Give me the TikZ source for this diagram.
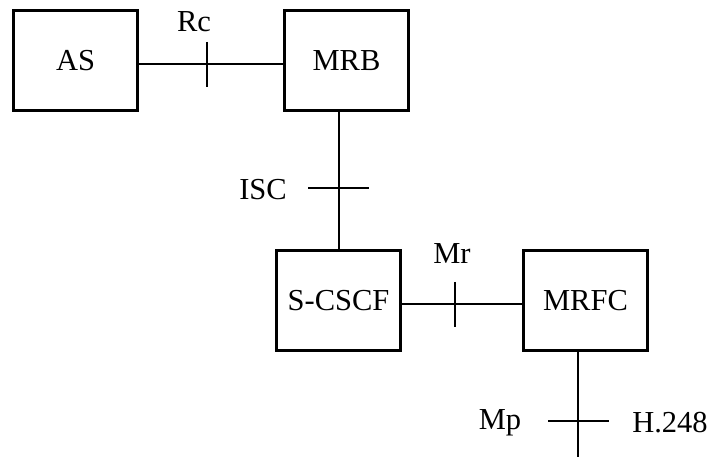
\documentclass[tikz,border=0pt]{standalone}
\usepackage{fontspec}
\setmainfont{Liberation Serif}
\usetikzlibrary{positioning}

\begin{document}
\begin{tikzpicture}[x = 1pt, y = -1pt, box/.style = {draw, line width = 2.2pt, minimum width = 124pt, minimum height = 100pt, font = \fontsize{30.5}{32}\selectfont}, link/.style = {line width = 1.2pt}, lbl/.style = {font = \fontsize{30.5}{32}\selectfont, inner sep = 0pt}]
\useasboundingbox (0, 0) rectangle (710, 457);

	\node [box] (AS) at (75.5, 60.5) {AS};
	\node [box] (MRB) at (346.5, 60.5) {MRB};
	\node [box] (SCSCF) at (338.5, 300.5) {S-CSCF};
	\node [box] (MRFC) at (585.5, 300.5) {MRFC};
	
	\coordinate (rc) at (207, 64);
	\coordinate (isc) at (339, 188);
	\coordinate (mr) at (455, 304);
	\coordinate (mp) at (578, 421);
	\coordinate (H) at (578, 457);
	
	% Rc
	\draw [link] (AS.east |- rc) -- (MRB.west |- rc);
	\draw [link] ([yshift = 22pt] rc) -- ([yshift = -23pt] rc);
	\node [lbl] (Rc) at (194, 22) {Rc};
	
	% ISC
	\draw [link] (MRB.south -| isc) -- (SCSCF.north -| isc);
	\draw [link] ([xshift = -31pt] isc) -- ([xshift = 30pt] isc);
	\node [lbl] (ISC) at (263, 190) {ISC};
	
	% Mr
	\draw [link] (SCSCF.east |- mr) -- (MRFC.west |- mr);
	\draw [link] ([yshift = 22pt] mr) -- ([yshift = -23pt] mr);
	\node [lbl] (Mr) at (452, 254) {Mr};
	
	% Mp / H.248
	\draw [link] (MRFC.south -| mp) -- (H);
	\draw [link] ([xshift = -30pt] mp) -- ([xshift = 31pt] mp);
	\node [lbl] (Mp) at (500, 423) {Mp};
	\node [lbl] (H248) at (670, 423) {H.248};

\end{tikzpicture}
\end{document}
